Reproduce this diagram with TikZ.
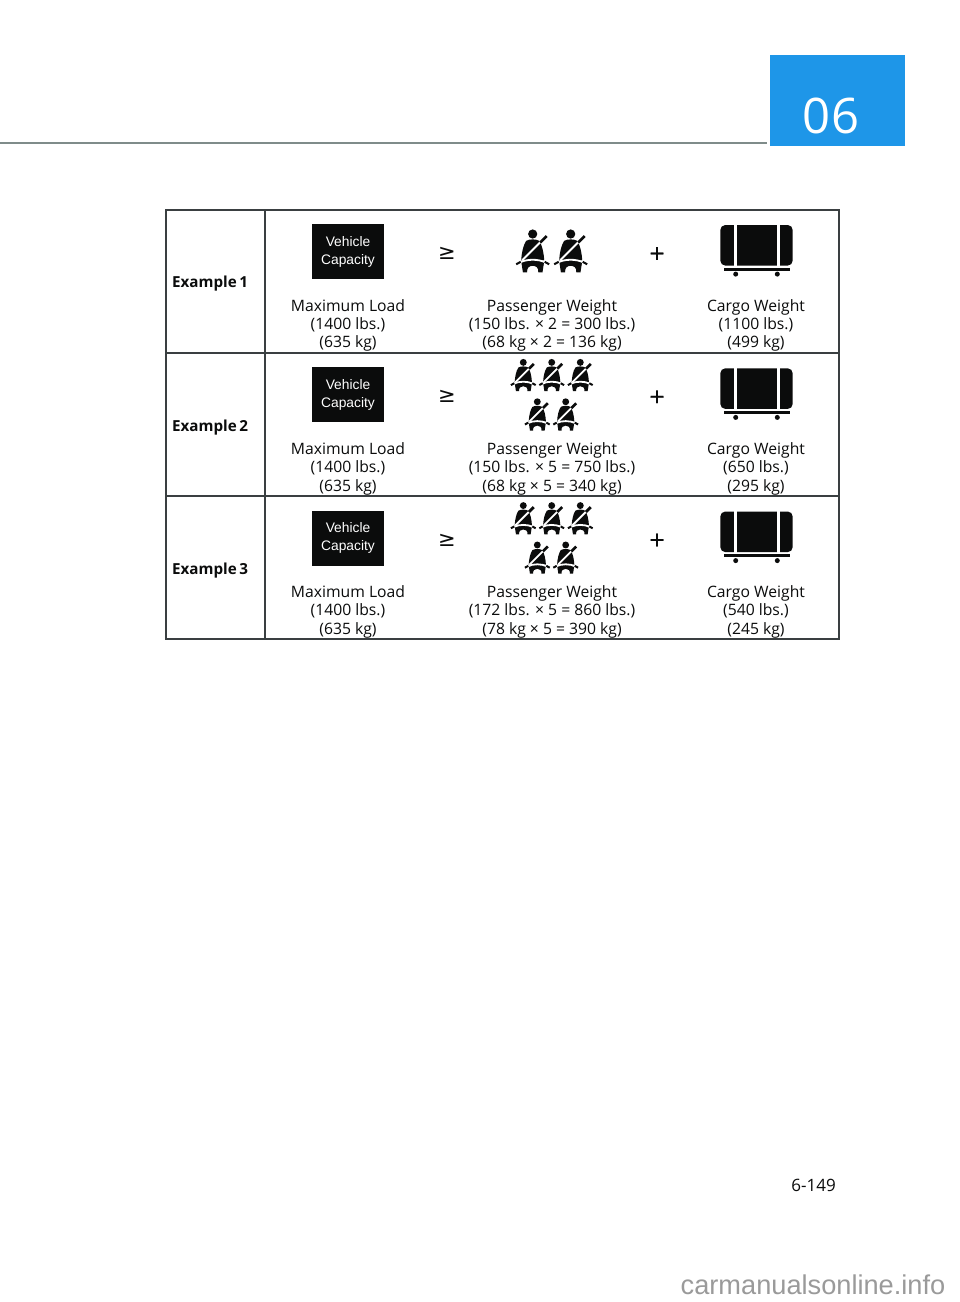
\documentclass[tikz,border=0pt]{standalone}
\usepackage{fontspec}
\setmainfont{Open Sans}
\newfontfamily\capfont{Liberation Sans}
\newfontfamily\symfont{DejaVu Sans}
\newfontfamily\plusfont[FakeBold=1.2]{DejaVu Sans}
\newcommand{\fs}[1]{\fontsize{#1}{#1}\selectfont}
\definecolor{ink}{HTML}{0B0C0C}
\definecolor{tabrule}{HTML}{3A3F41}
\definecolor{hdr}{HTML}{7F8C8A}
\definecolor{tabblue}{HTML}{1E96E8}
\definecolor{wmgray}{HTML}{9A9A9A}
\tikzset{
  x=1pt,y=-1pt,
  cell/.style={inner sep=0pt,anchor=base,text=ink,font=\fs{15.7}},
  rowtitle/.style={inner sep=0pt,anchor=base west,text=ink,font=\fs{15.2}\bfseries},
  capbox/.style={fill=ink,draw=none,minimum width=72pt,minimum height=55pt,inner sep=0pt},
  captext/.style={inner sep=0pt,anchor=base,text=white,font=\capfont\fs{13.8}},
  sym/.style={inner sep=0pt,text=ink},
  tabline/.style={draw=tabrule,line width=1.1pt},
  person/.pic={
    \fill[ink] (0,-.3) circle (4.6);
    \fill[ink] (-6.5,6.5) .. controls (-3,4.6) and (3,4.6) .. (6.5,6.5)
       .. controls (9.5,11) and (11,18) .. (11.5,26) -- (-11.5,26)
       .. controls (-11,18) and (-9.5,11) .. (-6.5,6.5) -- cycle;
    \fill[ink] (-11.5,27) .. controls (-5,25) and (5,25) .. (11.5,27) -- (9.8,38) -- (5.6,38)
       .. controls (6,33.5) and (3.5,31.5) .. (0,31.5) .. controls (-3.5,31.5) and (-6,33.5) .. (-5.6,38)
       -- (-9.8,38) -- cycle;
    \draw[white,line width=1.8pt] (-10.5,26) -- (9.5,6);
    \draw[ink,line width=2.7pt] (7.5,8.2) -- (14,1.7);
    \draw[white,line width=1.8pt] (-13,28.3) .. controls (-6,24.5) and (6,24.5) .. (13,28.3);
    \draw[ink,line width=2pt] (-12,27.5) -- (-16.5,30);
    \draw[ink,line width=2pt] (12,27.5) -- (16.5,30);
  },
  cargo/.pic={
    \fill[ink,rounded corners=5pt] (-36.2,-20.3) rectangle (36.2,20.3);
    \fill[white] (-22.2,-21) rectangle (-19.6,21);
    \fill[white] (20.4,-21) rectangle (23,21);
    \fill[ink] (-33,22.5) rectangle (33,25.4);
    \fill[ink] (-20.8,28.8) circle (2.5);
    \fill[ink] (20.8,28.8) circle (2.5);
  }
}
\newcommand{\exrow}[8]{%
  \begin{scope}[yshift=-#2pt]
    \node[rowtitle] (title#1) at (172,287.7) {\spaceskip=2.6pt\relax #3};
    \node[capbox] (box#1) at (348,251.5) {};
    \node[captext] (veh#1) at (348,246.3) {Vehicle};
    \node[captext] (cap#1) at (348,264) {Capacity};
    \node[sym,font=\symfont\fs{21}] (ge#1) at (447,253.5) {≥};
    \node[sym,font=\plusfont\fs{20}] (plus#1) at (657,253.5) {+};
    \node[cell] (ma#1) at (348,311) {Maximum Load};
    \node[cell] (mb#1) at (348,329.4) {(1400 lbs.)};
    \node[cell] (mc#1) at (348,347.8) {(635 kg)};
    \node[cell] (pa#1) at (552,311) {Passenger Weight};
    \node[cell] (pb#1) at (552,329.4) {#4};
    \node[cell] (pc#1) at (552,347.8) {#5};
    \node[cell] (ca#1) at (756,311) {Cargo Weight};
    \node[cell] (cb#1) at (756,329.4) {#6};
    \node[cell] (cc#1) at (756,347.8) {#7};
    \pic at (756.5,245.3) {cargo};
    #8
  \end{scope}}
\newcommand{\two}{%
  \pic at (532.7,234.3) {person};
  \pic at (570.7,234.3) {person};}
\newcommand{\five}{%
  \pic[scale=.75] at (523.3,219.3) {person};
  \pic[scale=.75] at (551.7,219.3) {person};
  \pic[scale=.75] at (580.3,219.3) {person};
  \pic[scale=.75] at (537.3,258.7) {person};
  \pic[scale=.75] at (565.7,258.7) {person};}
\begin{document}
\begin{tikzpicture}
  \useasboundingbox (0,0) rectangle (960,1302);
  \fill[white] (0,0) rectangle (960,1302);
  \coordinate (hl) at (0,143);
  \coordinate (hr) at (767,143);
  \draw[hdr,line width=2.7pt] (hl) -- (hr);
  \fill[tabblue] (770,55) rectangle (905,146);
  \node[inner sep=0pt,anchor=base,text=white,font=\fs{49}] (chap) at (831,133) {06};
  \draw[tabline] (166,210) rectangle (839,639);
  \draw[tabline] (265,210) -- (265,639);
  \draw[tabline] (166,353) -- (839,353);
  \draw[tabline] (166,496) -- (839,496);
  \exrow{1}{0}{Example 1}{(150 lbs. × 2 = 300 lbs.)}{(68 kg × 2 = 136 kg)}{(1100 lbs.)}{(499 kg)}{\two}
  \exrow{2}{143.3}{Example 2}{(150 lbs. × 5 = 750 lbs.)}{(68 kg × 5 = 340 kg)}{(650 lbs.)}{(295 kg)}{\five}
  \exrow{3}{286.5}{Example 3}{(172 lbs. × 5 = 860 lbs.)}{(78 kg × 5 = 390 kg)}{(540 lbs.)}{(245 kg)}{\five}
  \node[inner sep=0pt,anchor=east,text=ink,font=\fs{17}] (page) at (836,1185) {6-149};
  \node[inner sep=0pt,text=wmgray,font=\capfont\fs{27.2}] (wm) at (813,1285) {carmanualsonline.info};
\end{tikzpicture}
\end{document}
